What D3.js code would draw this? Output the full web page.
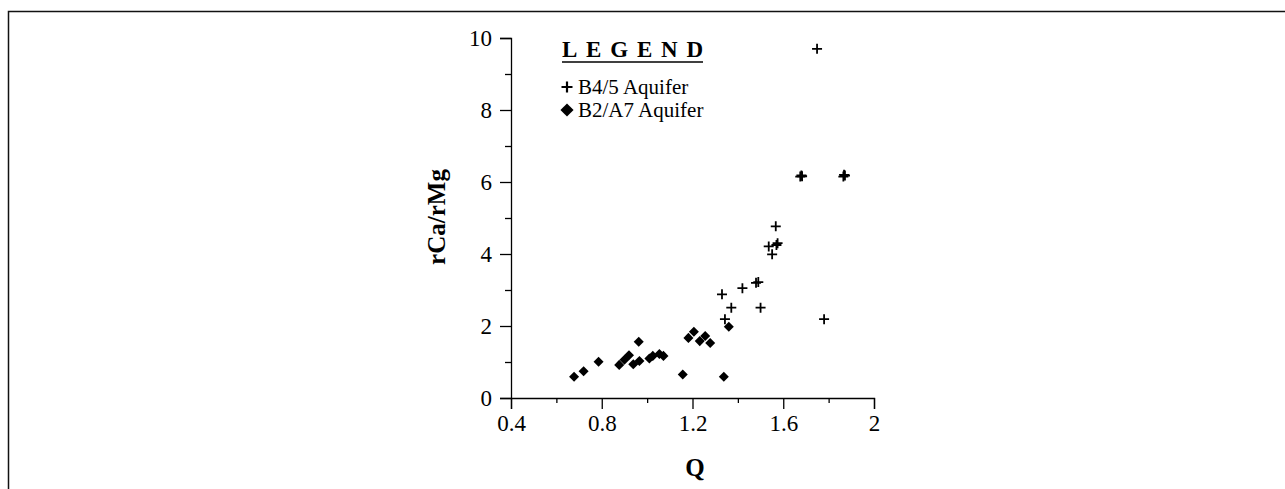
<!DOCTYPE html>
<html>
<head>
<meta charset="utf-8">
<script src="https://cdn.jsdelivr.net/npm/d3@7"></script>
<style>
  body { margin: 0; background: #fff; }
  text { font-family: "Liberation Serif", "Times New Roman", serif; fill: #000; }
</style>
</head>
<body>
<script>
// Data
const b45Q   = [1.749, 1.33, 1.371, 1.343, 1.42, 1.48, 1.49, 1.50, 1.567, 1.536, 1.551, 1.57, 1.575, 1.675, 1.683, 1.68, 1.865, 1.872, 1.868, 1.78];
const b45Rat = [9.70, 2.88, 2.51, 2.19, 3.05, 3.20, 3.22, 2.51, 4.77, 4.21, 3.99, 4.25, 4.30, 6.15, 6.16, 6.18, 6.15, 6.18, 6.20, 2.19];

const b2a7Q   = [0.678, 0.72, 0.786, 0.877, 0.90, 0.92, 0.939, 0.966, 0.963, 1.01, 1.025, 1.054, 1.072, 1.157, 1.182, 1.206, 1.232, 1.256, 1.278, 1.338, 1.36];
const b2a7Rat = [0.59, 0.74, 1.01, 0.92, 1.06, 1.19, 0.94, 1.03, 1.56, 1.10, 1.17, 1.22, 1.17, 0.65, 1.67, 1.84, 1.58, 1.72, 1.53, 0.59, 1.98];

const xMajor = [0.4, 0.8, 1.2, 1.6, 2];
const xMinor = [0.6, 1.0, 1.4, 1.8];
const yMajor = [0, 2, 4, 6, 8, 10];
const yMinor = [1, 3, 5, 7, 9];

const W = 1285, H = 489;

const svg = d3.select('body')
  .append('svg')
  .attr('width', W)
  .attr('height', H);

// page frame (top and left edges only visible)
svg.append('path')
  .attr('d', `M8.5,${H} L8.5,11.5 L${W},11.5`)
  .attr('fill', 'none')
  .attr('stroke', '#111')
  .attr('stroke-width', 1.5);

const x = d3.scaleLinear().domain([0.4, 2]).range([511, 874]);
const y = d3.scaleLinear().domain([0, 10]).range([398, 38]);

// X axis
const xAxis = svg.append('g').attr('transform', `translate(0, ${y(0)})`);
xAxis.call(d3.axisBottom(x).tickValues(xMajor).tickSize(11).tickPadding(6)
  .tickFormat(d3.format('')));
xAxis.selectAll('.minor')
  .data(xMinor).enter()
  .append('line')
  .attr('class', 'minor')
  .attr('x1', d => x(d) + 0.5).attr('x2', d => x(d) + 0.5)
  .attr('y1', 0).attr('y2', 5)
  .attr('stroke', '#000');

// Y axis
const yAxis = svg.append('g').attr('transform', `translate(${x(0.4)}, 0)`);
yAxis.call(d3.axisLeft(y).tickValues(yMajor).tickSize(11).tickPadding(8));
yAxis.selectAll('.minor')
  .data(yMinor).enter()
  .append('line')
  .attr('class', 'minor')
  .attr('x1', -6).attr('x2', 0)
  .attr('y1', d => y(d) + 0.5).attr('y2', d => y(d) + 0.5)
  .attr('stroke', '#000');

svg.selectAll('.domain').attr('stroke', '#000').attr('stroke-width', 1.3);
svg.selectAll('.tick line, .minor').attr('stroke', '#000').attr('stroke-width', 1.3);
svg.selectAll('.tick text')
  .attr('font-family', '"Liberation Serif", serif')
  .attr('font-size', 23)
  .attr('fill', '#000');

// axis titles
svg.append('text')
  .attr('x', 695).attr('y', 476)
  .attr('text-anchor', 'middle')
  .attr('font-size', 25).attr('font-weight', 'bold')
  .text('Q');

svg.append('text')
  .attr('transform', `translate(445, 217) rotate(-90)`)
  .attr('text-anchor', 'middle')
  .attr('font-size', 25).attr('font-weight', 'bold')
  .text('rCa/rMg');

// markers
const crossPath = 'M-5,0 H5 M0,-5 V5';
const diamond = d3.symbol().type(d3.symbolDiamond2).size(64);

svg.append('g').selectAll('path')
  .data(b2a7Q.map((q, i) => [q, b2a7Rat[i]]))
  .enter().append('path')
  .attr('transform', d => `translate(${x(d[0])}, ${y(d[1])})`)
  .attr('d', diamond)
  .attr('fill', '#000');

svg.append('g').selectAll('path')
  .data(b45Q.map((q, i) => [q, b45Rat[i]]))
  .enter().append('path')
  .attr('transform', d => `translate(${x(d[0])}, ${y(d[1])})`)
  .attr('d', crossPath)
  .attr('stroke', '#000')
  .attr('stroke-width', 1.8);

// legend
const lg = svg.append('g');
lg.append('text')
  .attr('x', 562).attr('y', 57)
  .attr('font-size', 23).attr('font-weight', 'bold')
  .attr('textLength', 141).attr('lengthAdjust', 'spacing')
  .text('LEGEND');
lg.append('line')
  .attr('x1', 562).attr('x2', 703)
  .attr('y1', 62).attr('y2', 62)
  .attr('stroke', '#000').attr('stroke-width', 1.5);

lg.append('path')
  .attr('transform', 'translate(567, 87)')
  .attr('d', 'M-5.5,0 H5.5 M0,-5.5 V5.5')
  .attr('stroke', '#000').attr('stroke-width', 2.2);
lg.append('text')
  .attr('x', 578).attr('y', 94)
  .attr('font-size', 21)
  .text('B4/5 Aquifer');

lg.append('path')
  .attr('transform', 'translate(567, 110)')
  .attr('d', d3.symbol().type(d3.symbolDiamond2).size(110))
  .attr('fill', '#000');
lg.append('text')
  .attr('x', 578).attr('y', 117)
  .attr('font-size', 21)
  .text('B2/A7 Aquifer');
</script>
</body>
</html>
